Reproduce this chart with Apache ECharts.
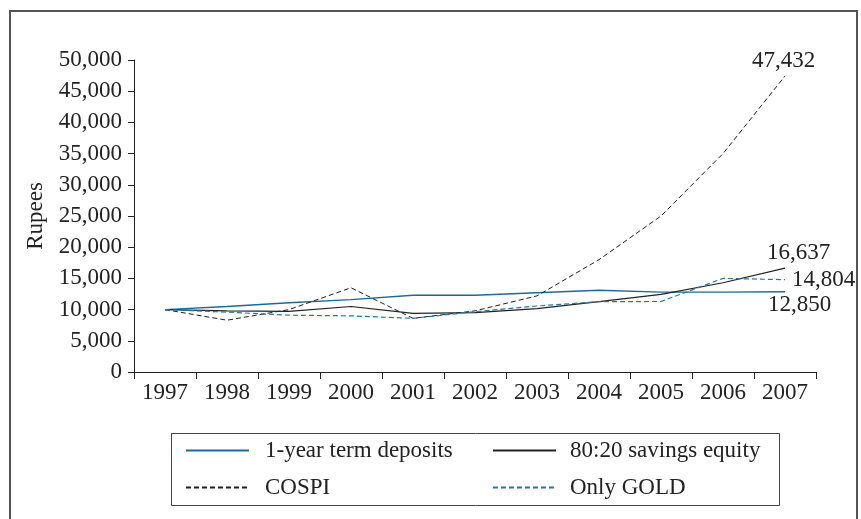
<!DOCTYPE html>
<html><head><meta charset="utf-8">
<script src="https://cdn.jsdelivr.net/npm/echarts@6/dist/echarts.min.js"></script>
<style>html,body{margin:0;padding:0;background:#fff}#c{width:861px;height:519px}</style>
</head><body><div id="c"></div>
<script>
const years = ['1997','1998','1999','2000','2001','2002','2003','2004','2005','2006','2007'];
const termDeposits = [10000,10500,11100,11600,12300,12300,12700,13100,12800,12800,12850];
const savingsEquity = [10000,9800,9700,10500,9400,9500,10150,11270,12450,14300,16637];
const cospi = [10000,8300,10000,13500,8600,9800,12200,18000,25000,35000,47432];
const onlyGold = [10000,9600,9100,9000,8600,9670,10580,11270,11300,15000,14804];
const yTicks = {min:0, max:50000, interval:5000};

const FONT = 'Liberation Serif';
const FS = 23;
const BLUE = '#1b6a9c';
const BLACK = '#222222';
const fmt = v => Number(v).toLocaleString('en-US');

function endLabel(offset){
  return {show:true, formatter:p => fmt(p.value), color:'#222', fontFamily:FONT, fontSize:FS, distance:5, offset:offset};
}

const chart = echarts.init(document.getElementById('c'), null, {renderer:'canvas'});
chart.setOption({
  animation:false,
  backgroundColor:'#fff',
  grid:{left:134, right:45, top:60, bottom:147},
  xAxis:{
    type:'category', data:years, boundaryGap:true,
    axisLine:{lineStyle:{color:'#222', width:1}},
    axisTick:{show:true, length:7, lineStyle:{color:'#222'}},
    axisLabel:{color:'#222', fontFamily:FONT, fontSize:FS, margin:9}
  },
  yAxis:{
    type:'value', min:yTicks.min, max:yTicks.max, interval:yTicks.interval,
    name:'Rupees', nameLocation:'middle', nameGap:87, nameRotate:90,
    nameTextStyle:{color:'#222', fontFamily:FONT, fontSize:FS},
    axisLine:{show:true, lineStyle:{color:'#222', width:1}},
    axisTick:{show:true, length:6, lineStyle:{color:'#222'}},
    splitLine:{show:false},
    axisLabel:{color:'#222', fontFamily:FONT, fontSize:FS, margin:12, formatter:fmt}
  },
  legend:[
    {orient:'vertical', left:185, top:439, padding:0, itemWidth:63, itemHeight:10, itemGap:14,
     itemStyle:{opacity:0},
     textStyle:{color:'#222', fontFamily:FONT, fontSize:FS, padding:[0,0,0,11]},
     data:['1-year term deposits','COSPI']},
    {orient:'vertical', left:492, top:439, padding:0, itemWidth:63, itemHeight:10, itemGap:14,
     itemStyle:{opacity:0},
     textStyle:{color:'#222', fontFamily:FONT, fontSize:FS, padding:[0,0,0,9]},
     data:['80:20 savings equity','Only GOLD']}
  ],
  graphic:[
    {type:'rect', shape:{x:10, y:11, width:847, height:530}, style:{fill:'none', stroke:'#555', lineWidth:2}, silent:true},
    {type:'rect', shape:{x:171.5, y:433.5, width:608, height:72}, style:{fill:'none', stroke:'#444', lineWidth:1}, silent:true}
  ],
  series:[
    {name:'1-year term deposits', type:'line', symbol:'none', data:termDeposits, endLabel:endLabel([-22,13]),
     lineStyle:{color:BLUE, width:1.4, type:'solid'}, itemStyle:{color:BLUE}},
    {name:'80:20 savings equity', type:'line', symbol:'none', data:savingsEquity, endLabel:endLabel([-23,-15]),
     lineStyle:{color:BLACK, width:1.2, type:'solid'}, itemStyle:{color:BLACK}},
    {name:'COSPI', type:'line', symbol:'none', data:cospi, endLabel:endLabel([-38,-15]),
     lineStyle:{color:BLACK, width:1, type:[5,3]}, itemStyle:{color:BLACK}},
    {name:'Only GOLD', type:'line', symbol:'none', data:onlyGold, endLabel:endLabel([2,0]),
     lineStyle:{color:'#2478a8', width:1.2, type:[5,3]}, itemStyle:{color:'#2478a8'}}
  ]
});
</script></body></html>
